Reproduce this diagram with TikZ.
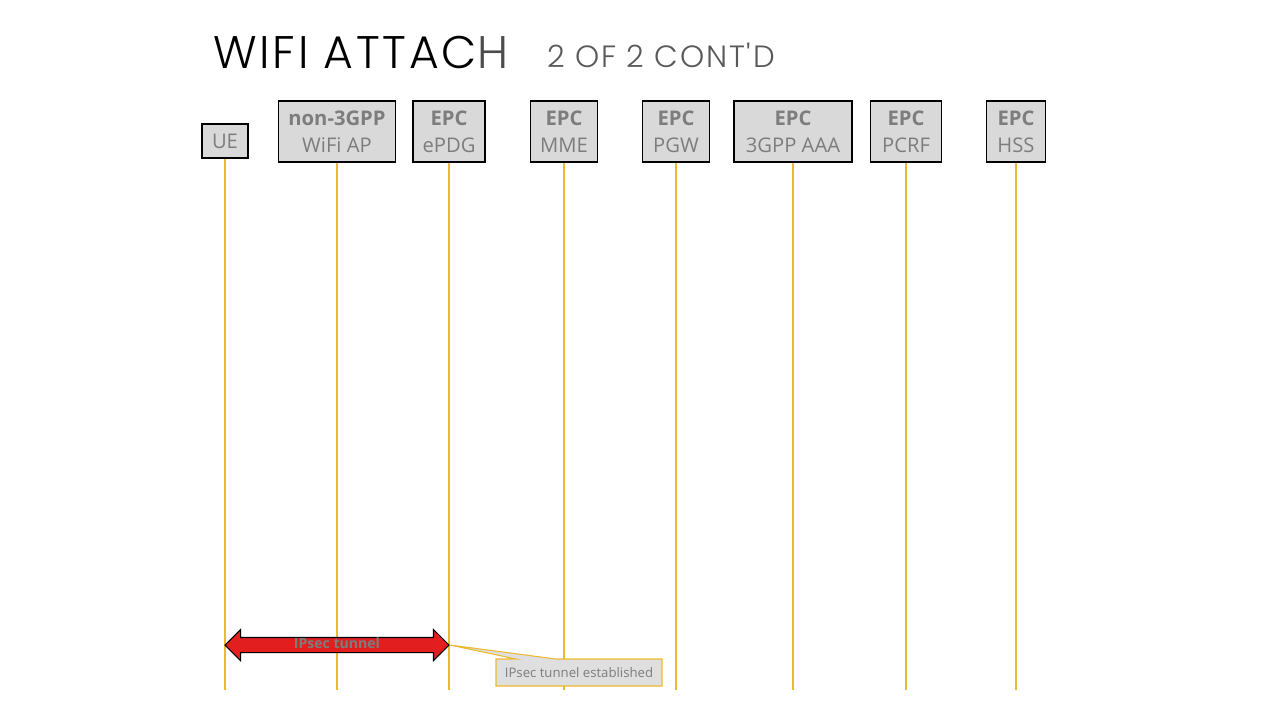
\documentclass[tikz,border=0pt]{standalone}
\usepackage{fontspec}
\setmainfont{Open Sans}
\newfontfamily\titlefont{Poppins}[UprightFont=* Light, LetterSpace=6]
\usepackage{xcolor}
\definecolor{myy}  {RGB}{236, 186, 48}
\definecolor{myg}  {RGB}{217, 217, 217}
\definecolor{mytxt}{RGB}{125, 125, 125}
\definecolor{myr}  {RGB}{226, 30, 30}
\usetikzlibrary{arrows.meta, positioning, shapes.arrows, shapes.callouts}

\begin{document}
\begin{tikzpicture}[x=0.02cm, y=-0.02cm,
        actor/.style={draw, line width=0.8pt, fill=myg, text=mytxt, align=center, inner sep=0pt, font=\fontsize{11.5}{15.5}\selectfont},
        life/.style={myy, line width=0.6pt},
        tunnel/.style={double arrow, draw=black, line width=0.6pt, fill=myr, text=mytxt, font=\bfseries\fontsize{8}{9}\selectfont,
            double arrow head extend=0.16cm, inner ysep=0.04cm, text height=0.16cm, text depth=0.04cm, minimum width=0.6cm},
        note/.style={rectangle callout, draw=myy, line width=0.6pt, fill=myg!85!white, text=mytxt, font=\fontsize{7.5}{9}\selectfont,
            minimum width=3.32cm, minimum height=0.54cm, callout pointer width=0.8cm}]
    \useasboundingbox (0,0) rectangle (1280,720);
    % title
    \node[anchor=base west, inner sep=0pt, font=\titlefont\fontsize{26}{30}\selectfont] (title) at (213,68) {WIFI ATTAC\textcolor{black!70}{H}};
    \node[anchor=base west, inner sep=0pt, text=black!65, font=\titlefont\fontsize{17.5}{20}\selectfont] (sub) at (547,67) {2 OF 2 CONT'D};
    % actors
    \node[actor, minimum width=46*0.02cm, minimum height=34*0.02cm] (ue) at (225,141) {UE};
    \foreach \i/\x/\w/\top/\name in {ap/337/117/non-3GPP/WiFi AP, epdg/449/72/EPC/ePDG, mme/564/67/EPC/MME, pgw/676/67/EPC/PGW,
            aaa/793/118/EPC/3GPP AAA, pcrf/906/71/EPC/PCRF, hss/1016/59/EPC/HSS}
    {
        \node[actor, minimum width=\w*0.02cm, minimum height=61*0.02cm] (\i) at (\x,131.5) {\textbf{\top}\\\name};
    }
    % lifelines
    \coordinate (base) at (0,690);
    \foreach \i in {ue,ap,epdg,mme,pgw,aaa,pcrf,hss}
    {
        \coordinate (\i end) at (\i.south |- base);
        \draw[life] (\i) -- (\i end);
    }
    % ipsec tunnel
    \node[tunnel, minimum height=224*0.02cm] (tun) at (337,645) {IPsec tunnel};
    \node[note, callout absolute pointer={(tun.east)}] (est) at (579,672.5) {IPsec tunnel established};
\end{tikzpicture}
\end{document}
